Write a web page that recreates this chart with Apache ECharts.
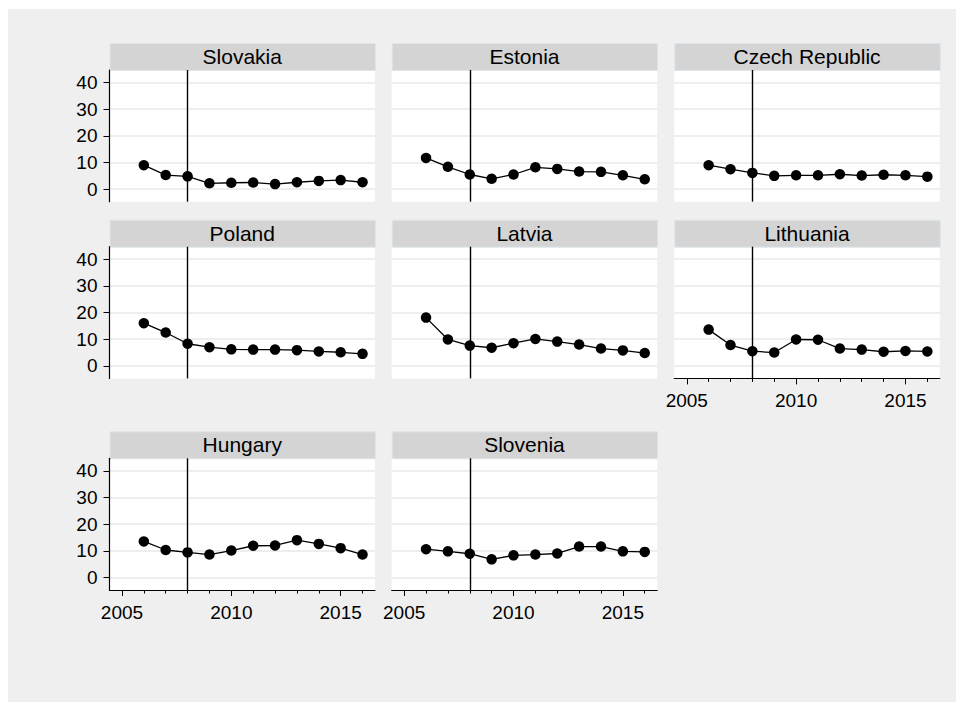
<!DOCTYPE html>
<html>
<head>
<meta charset="utf-8">
<script src="https://cdn.jsdelivr.net/npm/echarts@6/dist/echarts.min.js"></script>
<style>
  html, body { margin: 0; padding: 0; background: #ffffff; }
  #bg { position: absolute; left: 8px; top: 9px; width: 948px; height: 693px; background: #efefef; }
  #chart { position: absolute; left: 0; top: 0; width: 956px; height: 702px; }
</style>
</head>
<body>
<div id="bg"></div>
<div id="chart"></div>
<script>
// ---- data ----
const years = [2006, 2007, 2008, 2009, 2010, 2011, 2012, 2013, 2014, 2015, 2016];
const countries = ['Slovakia', 'Estonia', 'Czech Republic', 'Poland', 'Latvia', 'Lithuania', 'Hungary', 'Slovenia'];
const slovakia  = [9.0, 5.3, 4.8, 2.2, 2.4, 2.5, 1.9, 2.6, 3.1, 3.4, 2.6];
const estonia   = [11.7, 8.4, 5.5, 3.9, 5.5, 8.2, 7.6, 6.6, 6.5, 5.2, 3.7];
const czech     = [9.0, 7.5, 6.1, 5.0, 5.2, 5.2, 5.6, 5.1, 5.4, 5.2, 4.7];
const poland    = [16.0, 12.5, 8.3, 7.0, 6.2, 6.1, 6.1, 5.9, 5.4, 5.1, 4.5];
const latvia    = [18.1, 9.9, 7.6, 6.8, 8.5, 10.1, 9.1, 8.0, 6.5, 5.8, 4.8];
const lithuania = [13.6, 7.8, 5.5, 5.0, 9.9, 9.8, 6.5, 6.1, 5.3, 5.6, 5.4];
const hungary   = [13.5, 10.3, 9.4, 8.6, 10.1, 11.9, 12.0, 14.0, 12.6, 11.0, 8.6];
const slovenia  = [10.6, 9.8, 8.9, 6.8, 8.3, 8.6, 9.0, 11.6, 11.6, 9.8, 9.6];
const seriesValues = [slovakia, estonia, czech, poland, latvia, lithuania, hungary, slovenia];
const yTickValues = [0, 10, 20, 30, 40];
const xLabelValues = [2005, 2010, 2015];
const xMinorValues = [2005, 2006, 2007, 2008, 2009, 2010, 2011, 2012, 2013, 2014, 2015, 2016];
const refYear = 2008;

// ---- layout ----
const colLeft = [109.5, 391.7, 674.3];
const rowTop = [70, 246.7, 458.3];
const plotW = 265.5, plotH = 131.7, headH = 27;
const positions = [[0,0],[1,0],[2,0],[0,1],[1,1],[2,1],[0,2],[1,2]];
const bottomPanels = [5, 6, 7];
const FONT = 'Liberation Sans, Arial, sans-serif';
const XMIN = 2004.43, XMAX = 2016.57;

const grids = [], xAxes = [], yAxes = [], series = [], graphics = [];
positions.forEach(([c, r], i) => {
  grids.push({ left: colLeft[c], top: rowTop[r], width: plotW, height: plotH,
    show: true, backgroundColor: '#ffffff', borderWidth: 0 });
  const isBottom = bottomPanels.includes(i);
  xAxes.push({
    type: 'value', gridIndex: i, min: XMIN, max: XMAX, position: 'bottom',
    axisLine: { show: isBottom, onZero: false, lineStyle: { color: '#000', width: 1.2 } },
    axisTick: { show: isBottom, length: 3.5, customValues: xMinorValues, lineStyle: { color: '#000', width: 1 } },
    axisLabel: { show: isBottom, customValues: xLabelValues, margin: 13, color: '#000', fontSize: 19, fontFamily: FONT,
      formatter: v => String(v) },
    splitLine: { show: false }
  });
  const isLeft = c === 0;
  yAxes.push({
    type: 'value', gridIndex: i, min: -4.7, max: 44.7,
    axisLine: { show: isLeft, onZero: false, lineStyle: { color: '#000', width: 1.2 } },
    axisTick: { show: isLeft, length: 6, customValues: yTickValues, lineStyle: { color: '#000', width: 1 } },
    axisLabel: { show: isLeft, customValues: yTickValues, margin: 12, color: '#000', fontSize: 19, fontFamily: FONT },
    splitLine: { show: true, lineStyle: { color: '#e8e8e8', width: 1.5 } }
  });
  series.push({
    type: 'line', xAxisIndex: i, yAxisIndex: i,
    data: years.map((y, k) => [y, seriesValues[i][k]]),
    symbol: 'circle', symbolSize: 10.5,
    itemStyle: { color: '#000' },
    lineStyle: { color: '#000', width: 1.3 },
    animation: false, silent: true,
    markLine: { silent: true, symbol: 'none', animation: false,
      label: { show: false },
      lineStyle: { color: '#000', width: 1.4, type: 'solid' },
      data: [{ xAxis: refYear }] }
  });
  // header strip
  graphics.push({
    type: 'rect', left: colLeft[c], top: rowTop[r] - headH,
    shape: { width: plotW, height: headH },
    style: { fill: '#d4d4d4', stroke: '#dde6ec', lineWidth: 1 }, silent: true
  });
  graphics.push({
    type: 'text', x: colLeft[c] + plotW / 2, y: rowTop[r] - headH / 2,
    style: { text: countries[i], fill: '#000', font: '21px ' + FONT, textAlign: 'center', textVerticalAlign: 'middle' },
    silent: true
  });
});

// major x ticks (longer) for the bottom panels
bottomPanels.forEach(i => {
  xAxes.push({
    type: 'value', gridIndex: i, min: XMIN, max: XMAX, position: 'bottom',
    axisLine: { show: false, onZero: false }, axisLabel: { show: false }, splitLine: { show: false },
    axisTick: { show: true, length: 6, customValues: xLabelValues, lineStyle: { color: '#000', width: 1 } }
  });
});

const chart = echarts.init(document.getElementById('chart'), null, { renderer: 'svg' });
chart.setOption({
  backgroundColor: 'transparent',
  animation: false,
  grid: grids, xAxis: xAxes, yAxis: yAxes, series: series, graphic: graphics
});
</script>
</body>
</html>
